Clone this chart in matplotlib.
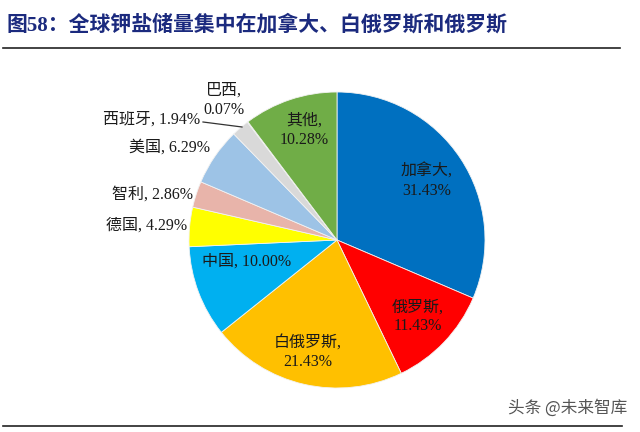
import matplotlib
matplotlib.use("Agg")
import matplotlib.pyplot as plt

categories = ["加拿大", "俄罗斯", "白俄罗斯", "中国", "德国", "智利", "美国", "西班牙", "巴西", "其他"]
values = [31.43, 11.43, 21.43, 10.00, 4.29, 2.86, 6.29, 1.94, 0.07, 10.28]
colors = ["#0070C0", "#FF0000", "#FFC000", "#00B0F0", "#FFFF00", "#E8B4AA",
          "#9DC3E6", "#D9D9D9", "#A5A5A5", "#70AD47"]

# label placement (pixel coords, y from top), alignment, line layout
label_pos = {
    "加拿大": (427, 181, "center", True),
    "俄罗斯": (418, 317, "center", True),
    "白俄罗斯": (308, 352, "center", True),
    "中国": (247, 262, "center", False),
    "德国": (187, 226, "right", False),
    "智利": (193, 195, "right", False),
    "美国": (210, 148, "right", False),
    "西班牙": (200, 120, "right", False),
    "巴西": (224, 100, "center", True),
    "其他": (304, 130, "center", True),
}

W, H = 640, 432
fig = plt.figure(figsize=(6.4, 4.32), dpi=100)
ax = fig.add_axes([0, 0, 1, 1])

cx, cy, R = 337, H - 240, 148
ax.pie(values, colors=colors, startangle=90, counterclock=False,
       center=(cx, cy), radius=R,
       wedgeprops=dict(edgecolor="#F2F2F2", linewidth=0.6))
ax.set_xlim(0, W)
ax.set_ylim(0, H)
ax.set_aspect("equal")
ax.axis("off")

fam = ["Liberation Serif", "Noto Sans CJK SC"]
for cat, val in zip(categories, values):
    x, y, ha, two = label_pos[cat]
    txt = f"{cat},\n{val:.2f}%" if two else f"{cat}, {val:.2f}%"
    ax.text(x, H - y, txt, ha=ha, va="center", fontsize=11.5,
            family=fam, color="#1A1A1A", linespacing=1.25)

# leader line
ax.plot([203, 242], [H - 122, H - 127], color="#333333", lw=0.9)

# title
ax.text(6, H - 25, "图58：全球钾盐储量集中在加拿大、白俄罗斯和俄罗斯",
        ha="left", va="center", fontsize=15, fontweight="bold",
        family=fam, color="#1B2A7E")
ax.plot([3, 620], [H - 48, H - 48], color="#222222", lw=1.2)
ax.plot([3, 622], [H - 426, H - 426], color="#222222", lw=1.2)

# watermark
ax.text(627, H - 408, "头条 @未来智库", ha="right", va="center", fontsize=12,
        family=["Noto Sans CJK SC", "DejaVu Sans"], color="#555555")

fig.savefig("out.png", dpi=100)
